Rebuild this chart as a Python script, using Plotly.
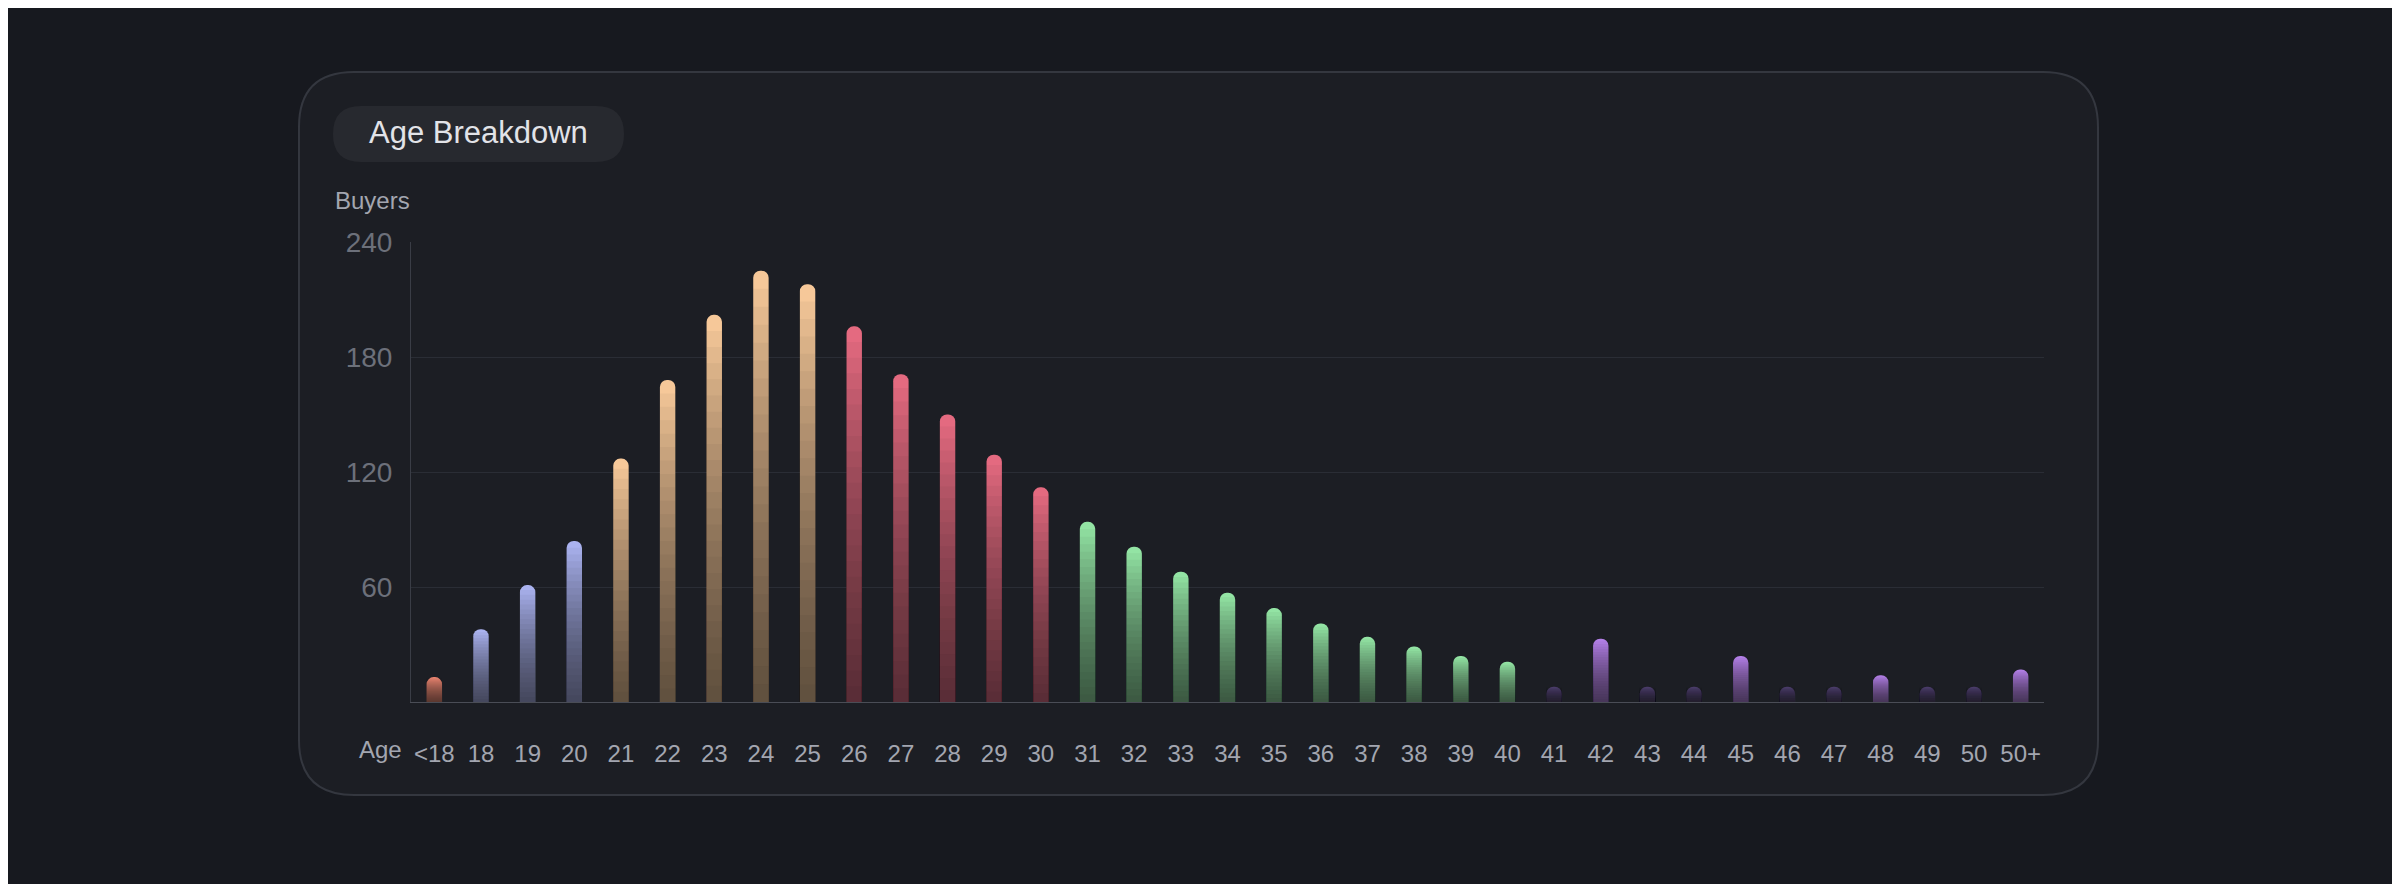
import plotly.graph_objects as go

ages = ["<18"] + [str(a) for a in range(18, 51)] + ["50+"]
buyers = [13, 38, 61, 84, 127, 168, 202, 225, 218, 196, 171, 150, 129, 112,
          94, 81, 68, 57, 49, 41, 34, 29, 24, 21,
          8, 33, 8, 8, 24, 8, 8, 14, 8, 8, 17]
groups = (["teen"] + ["early"] * 3 + ["peak"] * 5 + ["late"] * 5 + ["mid"] * 10
          + ["dim", "hi", "dim", "dim", "hi", "dim", "dim", "hi", "dim", "dim", "hi"])
group_colors = {"teen": "#e8836f", "early": "#aab2ef", "peak": "#f6c899",
                "late": "#e46a80", "mid": "#93e4a4", "hi": "#b27fe6", "dim": "#4c3d6b"}
colors = [group_colors[g] for g in groups]

W, H = 2400, 884
ML, MR, MT, MB = 403, 364, 234, 190
pw, ph = W - ML - MR, H - MT - MB


def px(x, y):
    return (x - ML) / pw, (H - MB - y) / ph


def rounded(x0, y0, x1, y1, r):
    # rounded rect path in paper coords, given pixel box
    def p(x, y):
        a, b = px(x, y)
        return f"{a:.5f},{b:.5f}"
    return (f"M{p(x0 + r, y0)} L{p(x1 - r, y0)} Q{p(x1, y0)} {p(x1, y0 + r)} "
            f"L{p(x1, y1 - r)} Q{p(x1, y1)} {p(x1 - r, y1)} L{p(x0 + r, y1)} "
            f"Q{p(x0, y1)} {p(x0, y1 - r)} L{p(x0, y0 + r)} Q{p(x0, y0)} {p(x0 + r, y0)} Z")


fig = go.Figure()
fig.add_bar(x=ages, y=buyers, marker=dict(color=colors, cornerradius=8, line_width=0),
            width=0.33, hoverinfo="x+y")
# darkening overlays to fake a top-to-bottom fade
steps = 24
for i in range(1, steps):
    k = 1 - i / steps
    fig.add_bar(x=ages, y=[v * k for v in buyers], width=0.33,
                marker=dict(color="rgba(18,18,26,0.045)", line_width=0), hoverinfo="skip")

fig.add_shape(type="path", xref="paper", yref="paper", path=rounded(291, 64, 2090, 787, 55),
              line=dict(color="#34373f", width=2), fillcolor="rgba(255,255,255,0.025)",
              layer="below")
fig.add_shape(type="path", xref="paper", yref="paper", path=rounded(325, 98, 616, 154, 28),
              line_width=0, fillcolor="rgba(255,255,255,0.05)", layer="below")

anns = []
x, y = px(325, 193)
anns.append(dict(text="Buyers", x=x, y=y, xanchor="left", yanchor="middle",
                 font=dict(size=24, color="#a3a6b0")))
x, y = px(396, 741)
anns.append(dict(text="Age", x=x, y=y, xanchor="right", yanchor="middle",
                 font=dict(size=24, color="#a3a6b0")))
x, y = px(470, 125)
anns.append(dict(text="Age Breakdown", x=x, y=y, xanchor="center", yanchor="middle",
                 font=dict(size=31, color="#e2e3e8")))
for a in anns:
    a.update(xref="paper", yref="paper", showarrow=False)

fig.update_layout(
    width=W, height=H, barmode="overlay", showlegend=False,
    paper_bgcolor="#17191f", plot_bgcolor="rgba(0,0,0,0)",
    margin=dict(l=ML, r=MR, t=MT, b=MB),
    font=dict(family="Liberation Sans, Arial", color="#a3a6b0"),
    xaxis=dict(type="category", showgrid=False, showline=True, linecolor="#4a4d56",
               tickfont=dict(size=24, color="#a3a6b0"), ticks="", ticklabelstandoff=30),
    yaxis=dict(range=[0, 240], tickvals=[60, 120, 180, 240], gridcolor="#2a2d35",
               showline=True, linecolor="#3a3d46", zeroline=False,
               tickfont=dict(size=28, color="#6c707a"), ticklabelstandoff=12),
    annotations=anns,
)

fig.write_html("out.html")
